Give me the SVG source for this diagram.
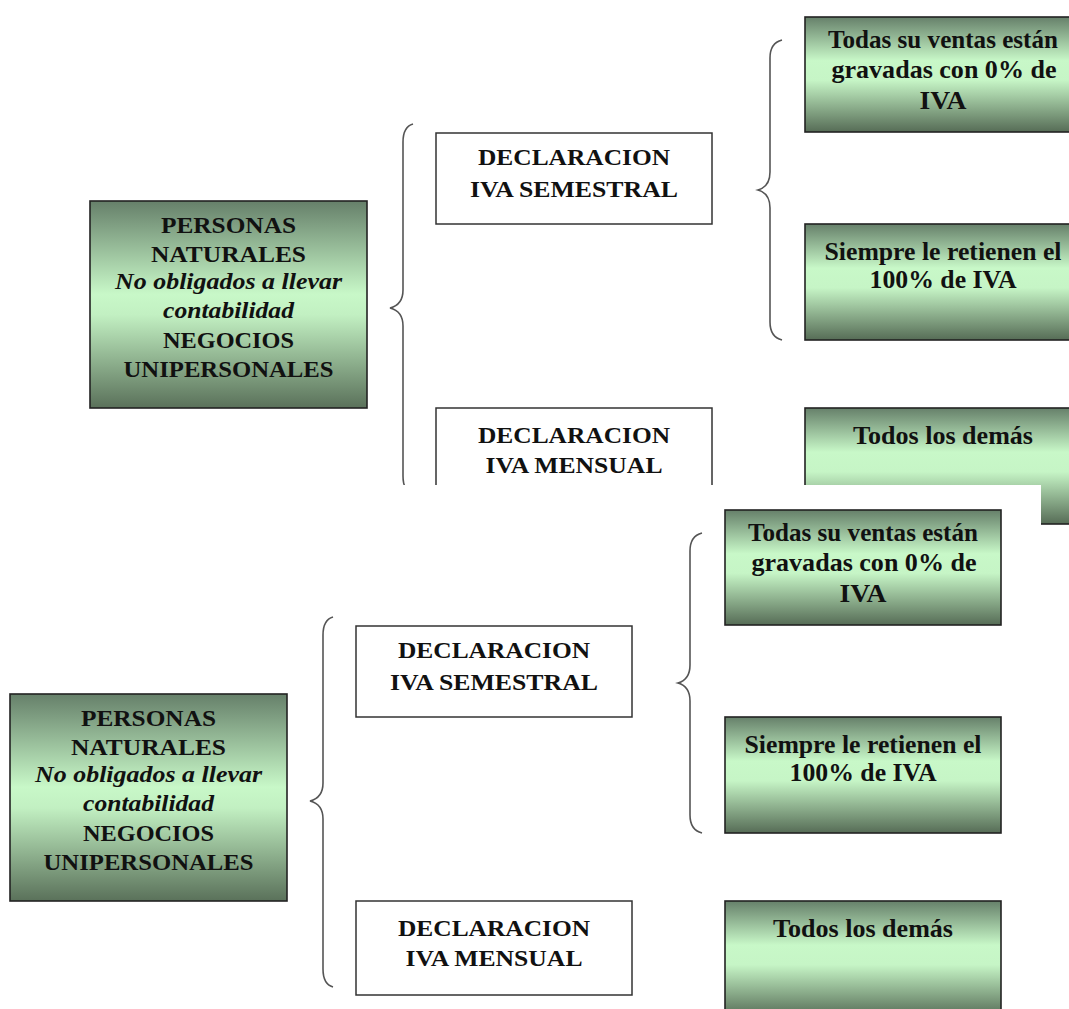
<svg xmlns="http://www.w3.org/2000/svg" width="1069" height="1009" viewBox="0 0 1069 1009">
  <defs>
    <linearGradient id="gMain" x1="0" y1="0" x2="0" y2="1">
      <stop offset="0" stop-color="#66806a"/>
      <stop offset="0.45" stop-color="#c8f8c8"/>
      <stop offset="0.55" stop-color="#c2f0c2"/>
      <stop offset="1" stop-color="#5a715a"/>
    </linearGradient>
    <linearGradient id="gLeaf" x1="0" y1="0" x2="0" y2="1">
      <stop offset="0" stop-color="#66806a"/>
      <stop offset="0.38" stop-color="#c8f8c8"/>
      <stop offset="0.55" stop-color="#c6f5c6"/>
      <stop offset="1" stop-color="#566c56"/>
    </linearGradient>
    <style>
      .main { fill: url(#gMain); stroke: #222; stroke-width: 1.6; }
      .leaf { fill: url(#gLeaf); stroke: #222; stroke-width: 1.6; }
      .plain { fill: #fff; stroke: #333; stroke-width: 1.5; }
      .brace { fill: none; stroke: #555; stroke-width: 1.6; }
      text { font-family: "Liberation Serif", "Times New Roman", serif; font-weight: bold; fill: #111; text-anchor: middle; }
      .t22 { font-size: 24px; }
      .t23 { font-size: 25px; }
      .it { font-style: italic; }
    </style>
  </defs>
  <rect x="0" y="0" width="1069" height="1009" fill="#fff"/>

  <!-- ===== First (upper, partly covered) copy ===== -->
  <g id="copy-top">
    <g id="top-connectors">
      <path class="brace" d="M413,124 C406,126 403,132 403,142 L403,290 C403,301 398,306 390,308 C398,310 403,315 403,326 L403,476 C403,486 406,492 413,494"/>
      <path class="brace" d="M782,40 C774,42 770,48 770,58 L770,172 C770,183 765,188 758,190 C765,192 770,197 770,208 L770,322 C770,332 774,338 782,340"/>
    </g>
    <g id="top-personas">
      <rect class="main" x="90" y="201" width="277" height="207"/>
      <text class="t22" x="228.5" y="233" textLength="135" lengthAdjust="spacingAndGlyphs">PERSONAS</text>
      <text class="t22" x="228.5" y="262" textLength="155" lengthAdjust="spacingAndGlyphs">NATURALES</text>
      <text class="t22 it" x="228.5" y="289" textLength="227" lengthAdjust="spacingAndGlyphs">No obligados a llevar</text>
      <text class="t22 it" x="228.5" y="318" textLength="131" lengthAdjust="spacingAndGlyphs">contabilidad</text>
      <text class="t22" x="228.5" y="348" textLength="131" lengthAdjust="spacingAndGlyphs">NEGOCIOS</text>
      <text class="t22" x="228.5" y="377" textLength="210" lengthAdjust="spacingAndGlyphs">UNIPERSONALES</text>
    </g>
    <g id="top-semestral">
      <rect class="plain" x="436" y="133" width="276" height="91"/>
      <text class="t22" x="574" y="165" textLength="192" lengthAdjust="spacingAndGlyphs">DECLARACION</text>
      <text class="t22" x="574" y="197" textLength="208" lengthAdjust="spacingAndGlyphs">IVA SEMESTRAL</text>
    </g>
    <g id="top-mensual">
      <rect class="plain" x="436" y="408" width="276" height="94"/>
      <text class="t22" x="574" y="443" textLength="192" lengthAdjust="spacingAndGlyphs">DECLARACION</text>
      <text class="t22" x="574" y="473" textLength="177" lengthAdjust="spacingAndGlyphs">IVA MENSUAL</text>
    </g>
    <g id="top-todas">
      <rect class="leaf" x="805" y="17" width="276" height="115"/>
      <text class="t23" x="943" y="48" textLength="230" lengthAdjust="spacingAndGlyphs">Todas su ventas están</text>
      <text class="t23" x="944" y="78" textLength="225" lengthAdjust="spacingAndGlyphs">gravadas con 0% de</text>
      <text class="t23" x="943" y="109" textLength="47" lengthAdjust="spacingAndGlyphs">IVA</text>
    </g>
    <g id="top-siempre">
      <rect class="leaf" x="805" y="224" width="276" height="116"/>
      <text class="t23" x="943" y="260" textLength="237" lengthAdjust="spacingAndGlyphs">Siempre le retienen el</text>
      <text class="t23" x="943" y="288" textLength="147" lengthAdjust="spacingAndGlyphs">100% de IVA</text>
    </g>
    <g id="top-todos">
      <rect class="leaf" x="805" y="408" width="276" height="116"/>
      <text class="t23" x="943" y="444" textLength="180" lengthAdjust="spacingAndGlyphs">Todos los demás</text>
    </g>
  </g>

  <!-- white sheet of the second copy covering the first -->
  <rect x="0" y="485" width="1041" height="524" fill="#fff"/>

  <!-- ===== Second (lower) copy ===== -->
  <g id="copy-bottom" transform="translate(-80,493)">
    <g id="bottom-connectors">
      <path class="brace" d="M413,124 C406,126 403,132 403,142 L403,290 C403,301 398,306 390,308 C398,310 403,315 403,326 L403,476 C403,486 406,492 413,494"/>
      <path class="brace" d="M782,40 C774,42 770,48 770,58 L770,172 C770,183 765,188 758,190 C765,192 770,197 770,208 L770,322 C770,332 774,338 782,340"/>
    </g>
    <g id="bottom-personas">
      <rect class="main" x="90" y="201" width="277" height="207"/>
      <text class="t22" x="228.5" y="233" textLength="135" lengthAdjust="spacingAndGlyphs">PERSONAS</text>
      <text class="t22" x="228.5" y="262" textLength="155" lengthAdjust="spacingAndGlyphs">NATURALES</text>
      <text class="t22 it" x="228.5" y="289" textLength="227" lengthAdjust="spacingAndGlyphs">No obligados a llevar</text>
      <text class="t22 it" x="228.5" y="318" textLength="131" lengthAdjust="spacingAndGlyphs">contabilidad</text>
      <text class="t22" x="228.5" y="348" textLength="131" lengthAdjust="spacingAndGlyphs">NEGOCIOS</text>
      <text class="t22" x="228.5" y="377" textLength="210" lengthAdjust="spacingAndGlyphs">UNIPERSONALES</text>
    </g>
    <g id="bottom-semestral">
      <rect class="plain" x="436" y="133" width="276" height="91"/>
      <text class="t22" x="574" y="165" textLength="192" lengthAdjust="spacingAndGlyphs">DECLARACION</text>
      <text class="t22" x="574" y="197" textLength="208" lengthAdjust="spacingAndGlyphs">IVA SEMESTRAL</text>
    </g>
    <g id="bottom-mensual">
      <rect class="plain" x="436" y="408" width="276" height="94"/>
      <text class="t22" x="574" y="443" textLength="192" lengthAdjust="spacingAndGlyphs">DECLARACION</text>
      <text class="t22" x="574" y="473" textLength="177" lengthAdjust="spacingAndGlyphs">IVA MENSUAL</text>
    </g>
    <g id="bottom-todas">
      <rect class="leaf" x="805" y="17" width="276" height="115"/>
      <text class="t23" x="943" y="48" textLength="230" lengthAdjust="spacingAndGlyphs">Todas su ventas están</text>
      <text class="t23" x="944" y="78" textLength="225" lengthAdjust="spacingAndGlyphs">gravadas con 0% de</text>
      <text class="t23" x="943" y="109" textLength="47" lengthAdjust="spacingAndGlyphs">IVA</text>
    </g>
    <g id="bottom-siempre">
      <rect class="leaf" x="805" y="224" width="276" height="116"/>
      <text class="t23" x="943" y="260" textLength="237" lengthAdjust="spacingAndGlyphs">Siempre le retienen el</text>
      <text class="t23" x="943" y="288" textLength="147" lengthAdjust="spacingAndGlyphs">100% de IVA</text>
    </g>
    <g id="bottom-todos">
      <rect class="leaf" x="805" y="408" width="276" height="116"/>
      <text class="t23" x="943" y="444" textLength="180" lengthAdjust="spacingAndGlyphs">Todos los demás</text>
    </g>
  </g>
</svg>
